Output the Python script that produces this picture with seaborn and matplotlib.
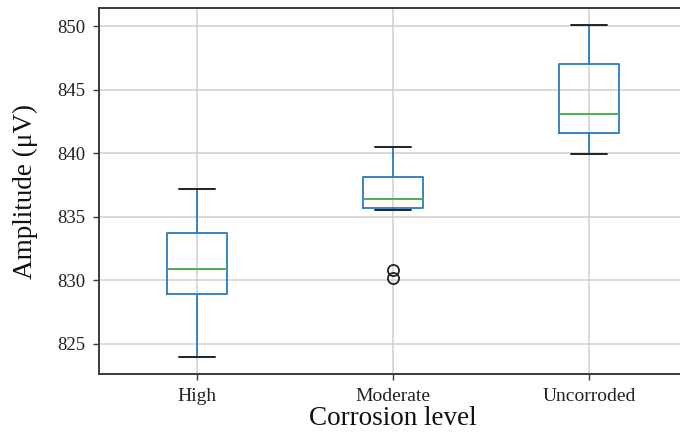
import numpy as np
import pandas as pd
import matplotlib
matplotlib.use("Agg")
import matplotlib.pyplot as plt
import matplotlib.colors as mcolors
import seaborn as sns

# Values (box statistics per corrosion level)
categories = ["High", "Moderate", "Uncorroded"]
whisker_low = [823.9, 835.5, 839.9]
q1_values = [828.9, 835.7, 841.6]
medians = [830.9, 836.4, 843.1]
q3_values = [833.7, 838.1, 847.0]
whisker_high = [837.2, 840.5, 850.1]
outliers = [[], [830.8, 830.15], []]

y_ticks = [825, 830, 835, 840, 845, 850]
x_label = "Corrosion level"
y_label = "Amplitude (\u03bcV)"

# Build sample sets whose quartiles reproduce the read statistics
rows = []
for cat, lo, a, m, b, hi, fl in zip(categories, whisker_low, q1_values,
                                    medians, q3_values, whisker_high, outliers):
    if fl:
        vals = sorted(fl) + [lo, a, a, a, m, b, b, b, b, b, hi]
    else:
        vals = [lo, a, m, b, hi]
    rows += [(cat, v) for v in vals]
df = pd.DataFrame(rows, columns=["level", "amp"])

sns.set_theme(style="whitegrid")
plt.rcParams["font.family"] = ["Liberation Serif", "DejaVu Serif"]

fig = plt.figure(figsize=(6.8, 4.4), dpi=100)
ax = fig.add_axes([0.1456, 0.15, 0.8647, 0.831])

blue = "#2a7bc0"
capc = "#222222"
sns.boxplot(data=df, x="level", y="amp", order=categories, ax=ax,
            fill=False, width=0.31, whis=1.5, color=blue,
            boxprops=dict(color=blue, linewidth=1.3),
            whiskerprops=dict(color=blue, linewidth=1.3),
            capprops=dict(color=capc, linewidth=1.4),
            medianprops=dict(color="#4caf50", linewidth=1.4),
            flierprops=dict(marker="o", markerfacecolor="none",
                            markeredgecolor=capc, markersize=8,
                            markeredgewidth=1.3))

# widen caps slightly to match the reference proportions
cap_rgba = mcolors.to_rgba(capc)
for line in ax.lines:
    xd = np.asarray(line.get_xdata(), dtype=float)
    yd = np.asarray(line.get_ydata(), dtype=float)
    if (len(xd) == 2 and yd[0] == yd[1] and xd[0] != xd[1]
            and mcolors.to_rgba(line.get_color()) == cap_rgba):
        c = xd.mean()
        half = abs(xd[1] - xd[0]) / 2 * 1.17
        line.set_xdata([c - half, c + half])

ax.set_ylim(822.6, 851.4)
ax.set_xlim(-0.5, 2.5)
ax.set_yticks(y_ticks)
ax.grid(True, color="#cfcfcf", linewidth=1.1)
ax.set_axisbelow(True)
for s in ax.spines.values():
    s.set_color("#3a3a3a")
    s.set_linewidth(1.4)
ax.tick_params(axis="both", which="both", direction="out", length=4,
               width=1, color="#3a3a3a", left=True, bottom=True)
ax.tick_params(axis="y", labelsize=13.5, pad=6)
ax.tick_params(axis="x", labelsize=14, pad=6)
ax.set_xlabel(x_label, fontsize=19.5, labelpad=1, color="#111111")
ax.set_ylabel(y_label, fontsize=19.5, labelpad=14, color="#111111")
for t in ax.get_xticklabels() + ax.get_yticklabels():
    t.set_color("#222222")

fig.savefig("out.png", dpi=100)
